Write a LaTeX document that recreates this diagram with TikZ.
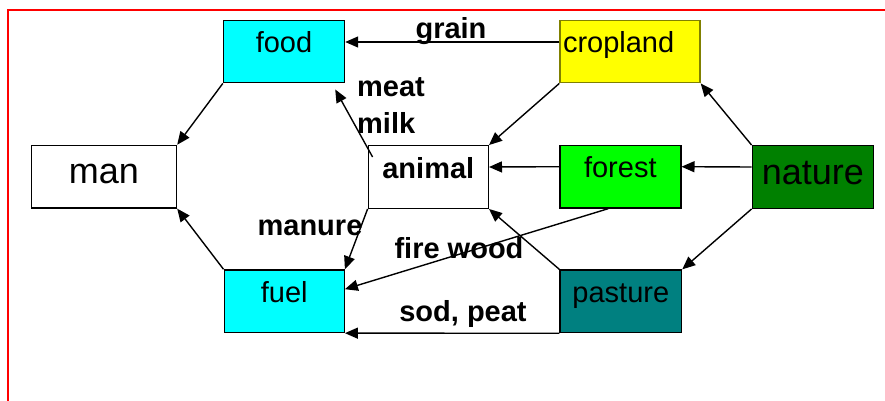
\documentclass[tikz,border=0pt]{standalone}
\usepackage{fontspec}
\setmainfont{Liberation Sans}
\usetikzlibrary{arrows.meta}
\definecolor{foodcyan}{HTML}{00FFFF}
\definecolor{cropyellow}{HTML}{FFFF00}
\definecolor{cropedge}{HTML}{808000}
\definecolor{forestgreen}{HTML}{00FF00}
\definecolor{naturegreen}{HTML}{008000}
\definecolor{pastureteal}{HTML}{008080}
\definecolor{framered}{HTML}{FF0000}
\begin{document}
\begin{tikzpicture}[x=1pt,y=-1pt,
  box/.style={draw=black, line width=1.4pt, inner sep=0pt, minimum width=121pt,
    text height=32.5pt, text depth=30pt, font=\fontsize{29}{34}\selectfont},
  bigbox/.style={box, text height=38.5pt, text depth=24pt, font=\fontsize{36}{42}\selectfont},
  flow/.style={line width=1.4pt, -{Triangle[length=13pt,width=11pt]}},
  lbl/.style={font=\fontsize{29}{34}\selectfont\bfseries, anchor=base, inner sep=0pt}
]
\useasboundingbox (0,0) rectangle (885,401);

% outer frame
\draw[framered, line width=1.8pt] (8,402) -- (8,10) -- (886,10);

% boxes
\node[box, fill=foodcyan, minimum width=121pt] (food) at (284,51.5) {food};
\node[box, fill=cropyellow, draw=cropedge, inner xsep=3pt, text width=134pt, align=left] (cropland) at (630,51.5) {cropland};
\node[bigbox, fill=white, minimum width=145pt] (man) at (104,176.7) {man};
\node[box, fill=white, minimum width=120pt, font=\fontsize{29}{34}\selectfont\bfseries] (animal) at (428.3,177) {animal};
\node[box, fill=forestgreen] (forest) at (620.3,176.7) {forest};
\node[bigbox, fill=naturegreen] (nature) at (812.8,177) {nature};
\node[box, fill=foodcyan, minimum width=120pt] (fuel) at (284.2,301.2) {fuel};
\node[box, fill=pastureteal, minimum width=121.5pt] (pasture) at (620.8,301.3) {pasture};

% flows
\draw[flow] ([yshift=9.5pt]cropland.west) -- ([yshift=9.5pt]food.east);
\draw[flow] (food.south west) -- (man.north east);
\draw[flow] (fuel.north west) -- (man.south east);
\draw[flow] ([xshift=5pt,yshift=-12pt]animal.north west) -- ([xshift=-10pt,yshift=-6pt]food.south east);
\draw[flow] (animal.south west) -- (fuel.north east);
\draw[flow] (cropland.south west) -- (animal.north east);
\draw[flow] ([yshift=10pt]forest.west) -- ([yshift=10pt]animal.east);
\draw[flow] (pasture.north west) -- (animal.south east);
\draw[flow] ([xshift=-12pt]forest.south) -- ([yshift=12pt]fuel.east);
\draw[flow] (pasture.south west) -- (fuel.south east);
\draw[flow] (nature.north west) -- (cropland.south east);
\draw[flow] ([yshift=10pt]nature.west) -- ([yshift=10pt]forest.east);
\draw[flow] (nature.south west) -- (pasture.north east);

% flow labels
\node[lbl] (grain) at (451,38.3) {grain};
\node[lbl, anchor=base west] (meat) at (357,96.7) {meat};
\node[lbl, anchor=base west] (milk) at (357,133.5) {milk};
\node[lbl] (manure) at (310,235) {manure};
\node[lbl] (firewood) at (459,258.3) {fire wood};
\node[lbl] (sodpeat) at (463,321.7) {sod, peat};
\end{tikzpicture}
\end{document}
